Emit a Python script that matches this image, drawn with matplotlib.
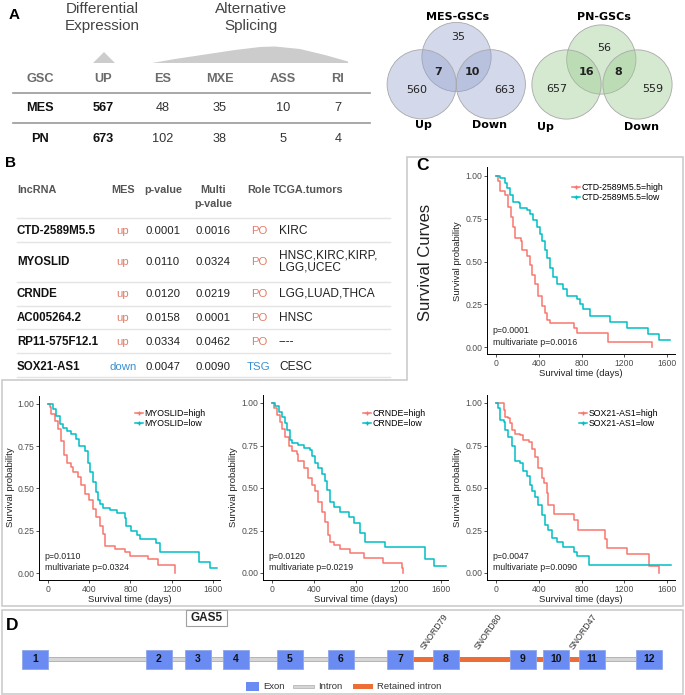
import matplotlib
matplotlib.use("Agg")
import matplotlib.pyplot as plt
from matplotlib.patches import Rectangle, Circle, Polygon
from matplotlib.lines import Line2D

plt.rcParams["font.family"] = ["Liberation Sans", "DejaVu Sans"]

W, H = 685, 695
RED = "#F8766D"
TEAL = "#00BFC4"
UPC = "#e27c68"
DOWNC = "#3b8fd1"

### Data

# panel A table
gsc_header = ["GSC", "UP", "ES", "MXE", "ASS", "RI"]
gsc_groups = ["MES", "PN"]
mes_counts = [567, 48, 35, 10, 7]
pn_counts = [673, 102, 38, 5, 4]

# venn counts: up only, top only, down only, up&top, top&down
mes_venn = [560, 35, 663, 7, 10]
pn_venn = [657, 56, 559, 16, 8]

# panel B table
lnc_names = ["CTD-2589M5.5", "MYOSLID", "CRNDE", "AC005264.2", "RP11-575F12.1", "SOX21-AS1"]
mes_dir = ["up", "up", "up", "up", "up", "down"]
p_values = ["0.0001", "0.0110", "0.0120", "0.0158", "0.0334", "0.0047"]
multi_p = ["0.0016", "0.0324", "0.0219", "0.0001", "0.0462", "0.0090"]
roles = ["PO", "PO", "PO", "PO", "PO", "TSG"]
tcga = ["KIRC", "HNSC,KIRC,KIRP,\nLGG,UCEC", "LGG,LUAD,THCA", "HNSC", "----", "CESC"]

# survival curves (time in days, survival probability)
ctd_high_t = [0, 20, 35, 80, 110, 140, 160, 180, 230, 245, 285, 320, 335, 360, 395, 425, 455, 475, 505, 725, 755, 1050, 1440, 1455]
ctd_high_s = [1.00, 0.97, 0.91, 0.89, 0.82, 0.76, 0.70, 0.64, 0.62, 0.57, 0.53, 0.48, 0.42, 0.37, 0.30, 0.24, 0.20, 0.16, 0.14, 0.11, 0.085, 0.03, 0.03, 0.0]
ctd_low_t = [0, 35, 85, 100, 130, 160, 210, 225, 285, 320, 350, 380, 410, 430, 460, 475, 505, 535, 570, 630, 660, 755, 785, 815, 880, 1065, 1225, 1425, 1520, 1625]
ctd_low_s = [1.00, 0.99, 0.96, 0.93, 0.89, 0.85, 0.84, 0.81, 0.80, 0.78, 0.74, 0.70, 0.66, 0.62, 0.57, 0.52, 0.46, 0.41, 0.37, 0.34, 0.30, 0.28, 0.25, 0.22, 0.18, 0.145, 0.11, 0.075, 0.04, 0.04]

myo_high_t = [0, 15, 30, 65, 95, 130, 160, 180, 225, 245, 290, 325, 355, 400, 435, 470, 500, 530, 550, 650, 745, 795, 970, 1065, 1225, 1235]
myo_high_s = [1.00, 0.98, 0.94, 0.90, 0.85, 0.78, 0.70, 0.65, 0.63, 0.60, 0.57, 0.52, 0.47, 0.43, 0.38, 0.33, 0.28, 0.23, 0.16, 0.14, 0.125, 0.10, 0.085, 0.05, 0.05, 0.0]
myo_low_t = [0, 50, 80, 115, 145, 180, 225, 275, 305, 355, 390, 405, 435, 470, 485, 500, 535, 600, 665, 745, 760, 810, 860, 890, 1050, 1085, 1470, 1570, 1640]
myo_low_s = [1.00, 0.97, 0.93, 0.88, 0.86, 0.84, 0.82, 0.79, 0.75, 0.72, 0.65, 0.60, 0.54, 0.48, 0.43, 0.41, 0.385, 0.375, 0.355, 0.325, 0.28, 0.25, 0.225, 0.20, 0.18, 0.125, 0.065, 0.03, 0.03]

crn_high_t = [0, 15, 45, 80, 95, 125, 160, 190, 235, 250, 300, 345, 380, 410, 440, 475, 505, 535, 550, 585, 645, 740, 870, 1055, 1230, 1240]
crn_high_s = [1.00, 0.97, 0.93, 0.89, 0.85, 0.80, 0.75, 0.72, 0.70, 0.66, 0.62, 0.56, 0.52, 0.48, 0.42, 0.36, 0.30, 0.225, 0.185, 0.165, 0.14, 0.115, 0.09, 0.06, 0.03, 0.0]
crn_low_t = [0, 30, 65, 95, 125, 140, 175, 190, 250, 300, 360, 380, 410, 440, 475, 505, 520, 550, 585, 645, 725, 775, 835, 885, 1075, 1450, 1530, 1645]
crn_low_s = [1.00, 0.98, 0.95, 0.92, 0.88, 0.84, 0.78, 0.765, 0.755, 0.735, 0.725, 0.69, 0.65, 0.62, 0.58, 0.54, 0.49, 0.42, 0.39, 0.36, 0.33, 0.295, 0.235, 0.18, 0.155, 0.08, 0.04, 0.04]

sox_high_t = [0, 70, 85, 115, 130, 145, 180, 225, 255, 305, 335, 365, 395, 430, 445, 475, 490, 540, 725, 770, 1020, 1040, 1225, 1430, 1525]
sox_high_s = [1.00, 0.96, 0.92, 0.91, 0.88, 0.84, 0.82, 0.81, 0.78, 0.77, 0.73, 0.68, 0.62, 0.56, 0.53, 0.47, 0.40, 0.345, 0.31, 0.255, 0.20, 0.145, 0.11, 0.04, 0.0]
sox_low_t = [0, 20, 35, 70, 85, 115, 145, 180, 225, 255, 290, 320, 335, 365, 395, 430, 460, 490, 520, 570, 630, 725, 755, 865, 1640]
sox_low_s = [1.00, 0.97, 0.90, 0.89, 0.84, 0.80, 0.745, 0.66, 0.65, 0.60, 0.57, 0.52, 0.48, 0.45, 0.40, 0.34, 0.285, 0.255, 0.205, 0.185, 0.155, 0.125, 0.10, 0.045, 0.045]

# panel D gene model (gene diagram units)
exon_ids = list(range(1, 13))
exon_centers = [35.5, 159, 198, 236, 290, 341, 400, 446, 523, 556, 592, 649]
retained_after = [7, 8, 9, 10]
snord_names = ["SNORD79", "SNORD80", "SNORD47"]
snord_after = [7, 8, 10]


### Drawing

fig = plt.figure(figsize=(W / 100, H / 100), dpi=100)
ov = fig.add_axes([0, 0, 1, 1])
ov.set_xlim(0, W)
ov.set_ylim(H, 0)
ov.axis("off")


def px_rect(l, t, r, b):
    return [l / W, 1 - b / H, (r - l) / W, (b - t) / H]


def txt(x, y, s, **kw):
    kw.setdefault("ha", "center")
    kw.setdefault("va", "center")
    ov.text(x, y, s, **kw)


# ---- panel A
txt(14, 15, "A", fontsize=11, fontweight="bold")
txt(102, 9, "Differential", fontsize=11, color="#444444")
txt(102, 26, "Expression", fontsize=11, color="#444444")
txt(251, 9, "Alternative", fontsize=11, color="#444444")
txt(251, 26, "Splicing", fontsize=11, color="#444444")
ov.add_patch(Polygon([(93, 63), (104, 52), (115, 63)], closed=True, fc="#cccccc", ec="none"))
ov.add_patch(Polygon([(152, 63), (175, 59), (205, 54.5), (235, 50), (260, 47), (275, 46.5),
                      (300, 49), (325, 55), (348, 61.5), (348, 63)], closed=True, fc="#cccccc", ec="none"))

col_x = [40, 103, 163, 220, 283, 338]
for x, h in zip(col_x, gsc_header):
    txt(x, 79, h, fontsize=9.2, fontweight="bold", color="#6b6b6b")
for y in [93, 123]:
    ov.plot([13, 370], [y, y], color="#999999", lw=1.2)
for y, g, vals in zip([108, 139], gsc_groups, [mes_counts, pn_counts]):
    txt(col_x[0], y, g, fontsize=9.2, fontweight="bold", color="#111111")
    for i, v in enumerate(vals):
        txt(col_x[i + 1], y, str(v), fontsize=9.2, color="#111111" if i == 0 else "#333333",
            fontweight="bold" if i == 0 else "normal")


def venn(title, tx, counts, circles, label_pos, face):
    for cx, cy in circles:
        ov.add_patch(Circle((cx, cy), 34.6, fc=face, ec="none", alpha=0.4))
        ov.add_patch(Circle((cx, cy), 34.6, fc="none", ec="#a8a8a8", lw=0.6))
    txt(tx, 17, title, fontsize=8, fontweight="bold", family="DejaVu Sans")
    for i, (x, y) in enumerate(label_pos[:5]):
        txt(x, y, str(counts[i]), fontsize=8, family="DejaVu Sans",
            fontweight="bold" if i >= 3 else "normal", color="#222222")
    txt(label_pos[5][0], label_pos[5][1], "Up", fontsize=8, fontweight="bold", family="DejaVu Sans")
    txt(label_pos[6][0], label_pos[6][1], "Down", fontsize=8, fontweight="bold", family="DejaVu Sans")


venn("MES-GSCs", 458, mes_venn, [(456.5, 57), (421.7, 84.3), (490.8, 84.3)],
     [(417, 90), (458, 37), (505, 90), (438, 72), (472, 72), (423, 125), (490, 125)], "#91a0cf")
venn("PN-GSCs", 604, pn_venn, [(601.3, 59.5), (566.5, 84.5), (637.5, 84.5)],
     [(557, 89), (604, 48), (653, 89), (587, 72), (618, 72), (545, 127), (642, 127)], "#98ca8e")

# ---- panel B
txt(11, 163, "B", fontsize=11, fontweight="bold")
hdr = dict(fontsize=7.8, fontweight="bold", color="#555555")
txt(17, 190, "lncRNA", ha="left", **hdr)
txt(123, 190, "MES", **hdr)
txt(163, 190, "p-value", **hdr)
txt(213, 190, "Multi", **hdr)
txt(213, 204, "p-value", **hdr)
txt(259, 190, "Role", **hdr)
txt(273, 190, "TCGA.tumors", ha="left", **hdr)
for y in [218, 242, 282, 306, 329, 353, 377]:
    ov.plot([17, 390], [y, y], color="#e4e4e4", lw=1)
row_y = [231, 262, 294, 318, 342, 367]
for i, y in enumerate(row_y):
    c = UPC if mes_dir[i] == "up" else DOWNC
    txt(17, y, lnc_names[i], ha="left", fontsize=8.3, fontweight="bold", color="#111111")
    txt(123, y, mes_dir[i], fontsize=8.2, color=c)
    txt(163, y, p_values[i], fontsize=8.2, color="#222222")
    txt(213, y, multi_p[i], fontsize=8.2, color="#222222")
    txt(259, y, roles[i], fontsize=8.2, color=c)
    txt(279, y, tcga[i], ha="left", fontsize=8.6, color="#222222", linespacing=1.0)

# ---- panel C frame
ov.add_patch(Polygon([(407, 157), (683, 157), (683, 606), (2, 606), (2, 380), (407, 380)],
                     closed=True, fc="none", ec="#cccccc", lw=1.2))
txt(423, 166, "C", fontsize=12.5, fontweight="bold")
txt(426, 262, "Survival Curves", fontsize=12, rotation=90, color="#222222")


def km_panel(rect, gene, hi_t, hi_s, lo_t, lo_s, p, mp, leg_xy):
    ax = fig.add_axes(px_rect(*rect))
    ax.patch.set_alpha(0)
    ax.step(hi_t, hi_s, where="post", color=RED, lw=1.1)
    ax.step(lo_t, lo_s, where="post", color=TEAL, lw=1.1)
    ax.set_xlim(-85, 1670)
    ax.set_ylim(-0.04, 1.05)
    ax.set_xticks([0, 400, 800, 1200, 1600])
    ax.set_yticks([0, 0.25, 0.5, 0.75, 1.0])
    ax.set_yticklabels(["0.00", "0.25", "0.50", "0.75", "1.00"])
    ax.tick_params(labelsize=6.2, labelcolor="#4d4d4d", length=2, width=0.6, pad=1.5, color="#333333")
    for s in ["top", "right"]:
        ax.spines[s].set_visible(False)
    for s in ["left", "bottom"]:
        ax.spines[s].set_linewidth(0.7)
    ax.set_xlabel("Survival time (days)", fontsize=6.8, color="#222222", labelpad=1)
    ax.set_ylabel("Survival probability", fontsize=6.8, color="#222222", labelpad=2)
    ax.text(-30, 0.095, "p=" + p, fontsize=6.3, color="#222222", va="center")
    ax.text(-30, 0.03, "multivariate p=" + mp, fontsize=6.3, color="#222222", va="center")
    handles = [Line2D([], [], color=RED, lw=1.1, marker="+", markersize=3),
               Line2D([], [], color=TEAL, lw=1.1, marker="+", markersize=3)]
    ax.legend(handles, [gene + "=high", gene + "=low"], loc="upper left",
              bbox_to_anchor=leg_xy, bbox_transform=ov.transData, frameon=False,
              fontsize=6.3, handlelength=0.9, handletextpad=0.15, labelspacing=0.05,
              borderpad=0, borderaxespad=0)
    return ax


km_panel((487, 167.4, 674.6, 354), "CTD-2589M5.5", ctd_high_t, ctd_high_s, ctd_low_t, ctd_low_s,
         "0.0001", "0.0016", (572, 183.5))
km_panel((39.2, 395.5, 220.1, 579.8), "MYOSLID", myo_high_t, myo_high_s, myo_low_t, myo_low_s,
         "0.0110", "0.0324", (135, 409.5))
km_panel((263, 394.5, 448.3, 579.8), "CRNDE", crn_high_t, crn_high_s, crn_low_t, crn_low_s,
         "0.0120", "0.0219", (363, 409.5))
km_panel((487, 394.5, 674.6, 579.8), "SOX21-AS1", sox_high_t, sox_high_s, sox_low_t, sox_low_s,
         "0.0047", "0.0090", (579, 409.5))

# ---- panel D
ov.add_patch(Rectangle((2, 610), 681, 84, fc="none", ec="#cccccc", lw=1.2))
txt(12, 625, "D", fontsize=12.5, fontweight="bold")
ov.add_patch(Rectangle((186, 610), 41, 16, fc="white", ec="#a0a0a0", lw=0.8))
txt(206.5, 618, "GAS5", fontsize=8.5, fontweight="bold", color="#222222")

exon_w, exon_h, gene_y = 26, 19, 659
ov.add_patch(Rectangle((exon_centers[0], gene_y - 2), exon_centers[-1] - exon_centers[0], 4,
                       fc="#d6d6d6", ec="#ababab", lw=0.6))
for k in retained_after:
    a, b = exon_centers[k - 1], exon_centers[k]
    ov.add_patch(Rectangle((a, gene_y - 2.5), b - a, 5, fc="#ec6d35", ec="none"))
for n, cx in zip(exon_ids, exon_centers):
    ov.add_patch(Rectangle((cx - exon_w / 2, gene_y - exon_h / 2), exon_w, exon_h,
                           fc="#6a8cf2", ec="#8fa5e8", lw=0.6))
    txt(cx, gene_y, str(n), fontsize=7.5, fontweight="bold", color="#111111")
snord_shift = [11, 3.5, 9]
for name, k, dx in zip(snord_names, snord_after, snord_shift):
    mid = (exon_centers[k - 1] + exon_centers[k]) / 2
    txt(mid + dx, 632, name, fontsize=6.3, rotation=55, color="#333333")

ov.add_patch(Rectangle((246, 682), 13, 9, fc="#6a8cf2", ec="none"))
txt(263, 686.5, "Exon", ha="left", fontsize=6.8, color="#333333")
ov.add_patch(Rectangle((293, 684.5), 21, 3.5, fc="#d6d6d6", ec="#ababab", lw=0.5))
txt(318, 686.5, "Intron", ha="left", fontsize=6.8, color="#333333")
ov.add_patch(Rectangle((353, 684), 20, 4.5, fc="#ec6d35", ec="none"))
txt(377, 686.5, "Retained intron", ha="left", fontsize=6.8, color="#333333")

fig.savefig("out.png", dpi=100)
